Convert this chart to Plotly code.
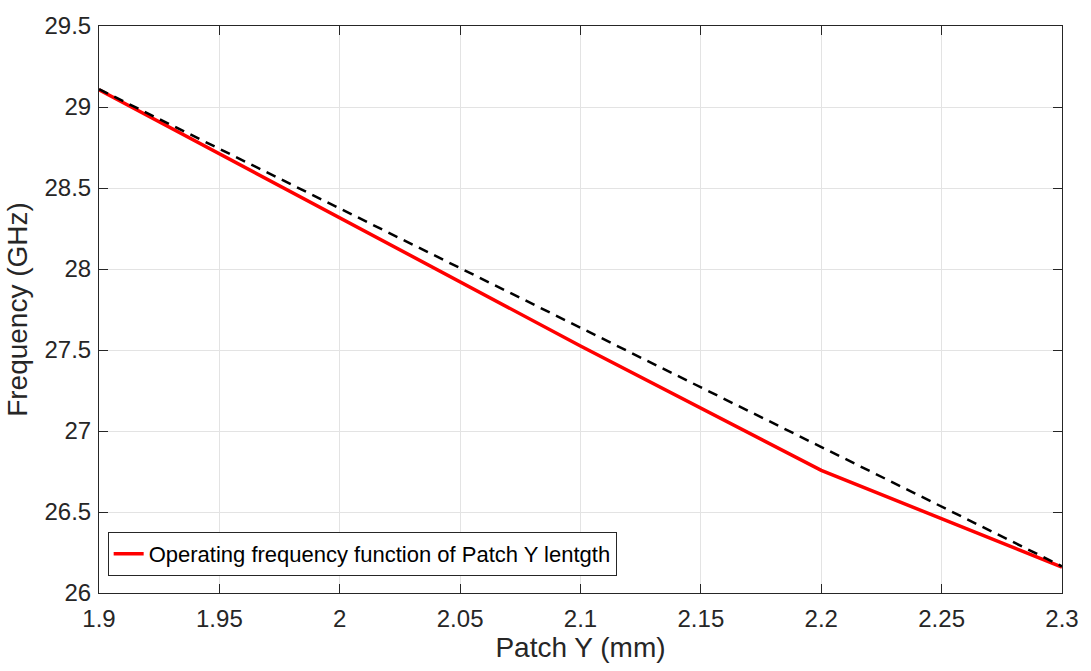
import plotly.graph_objects as go

patch_y = [1.9, 2.0, 2.1, 2.2, 2.3]
freq = [29.107, 28.314, 27.525, 26.757, 26.16]
ref_x = [1.9, 2.3]
ref_y = [29.11, 26.165]

x_ticks = [1.9, 1.95, 2.0, 2.05, 2.1, 2.15, 2.2, 2.25, 2.3]
x_labels = ["1.9", "1.95", "2", "2.05", "2.1", "2.15", "2.2", "2.25", "2.3"]
y_ticks = [26, 26.5, 27, 27.5, 28, 28.5, 29, 29.5]
y_labels = ["26", "26.5", "27", "27.5", "28", "28.5", "29", "29.5"]

font_family = "Liberation Sans, Arial, Helvetica, sans-serif"
axis_col = "#262626"

fig = go.Figure()
fig.add_trace(go.Scatter(
    x=patch_y, y=freq, mode="lines",
    line=dict(color="#ff0000", width=3.5),
    name="Operating frequency function of Patch Y lentgth",
))
fig.add_trace(go.Scatter(
    x=ref_x, y=ref_y, mode="lines",
    line=dict(color="#000000", width=2.5, dash="10px,7px"),
    showlegend=False,
))

common = dict(
    showgrid=True, gridcolor="#e3e3e3", gridwidth=1,
    showline=True, linecolor=axis_col, linewidth=1, mirror="allticks",
    ticks="inside", ticklen=9, tickcolor=axis_col, tickwidth=1,
    zeroline=False,
    tickfont=dict(family=font_family, size=24, color=axis_col),
)

fig.update_layout(
    width=1091, height=671,
    margin=dict(l=99, r=25, t=18, b=78),
    paper_bgcolor="white", plot_bgcolor="white",
    font=dict(family=font_family, color=axis_col),
    xaxis=dict(range=[1.9, 2.3], tickvals=x_ticks, ticktext=x_labels,
               ticklabelstandoff=4,
               title=dict(text="Patch Y (mm)", font=dict(size=28, family=font_family, color=axis_col), standoff=4),
               **common),
    yaxis=dict(range=[26, 29.5], tickvals=y_ticks, ticktext=y_labels,
               ticklabelstandoff=2,
               title=dict(text="Frequency (GHz)", font=dict(size=28, family=font_family, color=axis_col), standoff=8),
               **common),
    legend=dict(
        x=0.009, y=0.03, xanchor="left", yanchor="bottom",
        bgcolor="white", bordercolor="#262626", borderwidth=1,
        font=dict(family=font_family, size=22, color="#000000"),
        itemwidth=30, tracegroupgap=0,
    ),
    showlegend=True,
)

fig.write_html("out.html")
